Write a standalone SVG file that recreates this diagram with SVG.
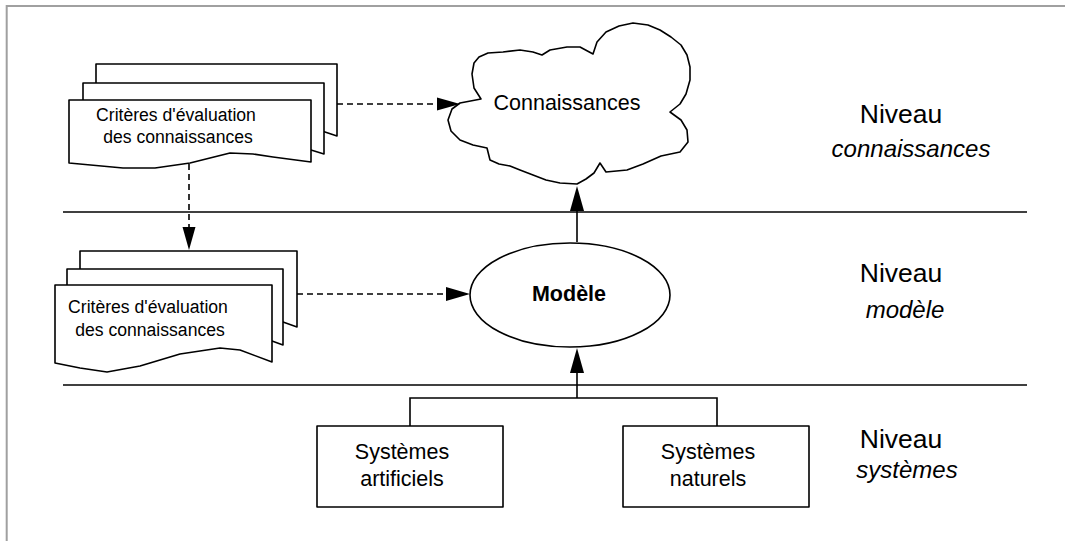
<svg xmlns="http://www.w3.org/2000/svg" width="1065" height="541" viewBox="0 0 1065 541">
<style>
.s{fill:#fff;stroke:#000;stroke-width:1.6;stroke-linejoin:round}
.ln{fill:none;stroke:#000;stroke-width:1.6}
.d{fill:none;stroke:#000;stroke-width:1.6;stroke-dasharray:6 4}
.ah{fill:#000;stroke:none}
text{font-family:"Liberation Sans",Arial,sans-serif;fill:#000;text-anchor:middle}
.t{font-size:17.6px}
.m{font-size:21.5px}
.n{font-size:26.5px}
.i{font-style:italic;font-size:24px}
</style>
<rect width="1065" height="541" fill="#fff"/>
<path d="M6.7,541 V6 H1065" fill="none" stroke="#a0a0a0" stroke-width="2"/>
<g id="separators">
<line class="ln" x1="63" y1="212" x2="1027" y2="212"/>
<line class="ln" x1="63" y1="385" x2="1027" y2="385"/>
</g>
<g id="doc-top">
<path class="s" d="M96,64 H337 V136 L322,131 L96,128 Z"/>
<path class="s" d="M83,83 H324 V154 L311,150 L83,146 Z"/>
<path class="s" d="M69,100 H311 V162 L273,157 L253,154 L230,153 L190,163 L155,168 L123,168 L69,163 Z"/>
<text class="t" x="176" y="121">Critères d'évaluation</text>
<text class="t" x="178" y="143">des connaissances</text>
</g>
<g id="doc-bottom">
<path class="s" d="M80,251 H297 V327 L283,322 L80,320 Z"/>
<path class="s" d="M67,269 H283 V345 L272,341 L67,338 Z"/>
<path class="s" d="M55,285 H272 V362 L240,350 L220,348 L180,354 L140,366 L107,372 L80,368 L55,363 Z"/>
<text class="t" x="148" y="313">Critères d'évaluation</text>
<text class="t" x="150" y="336">des connaissances</text>
</g>
<g id="cloud">
<path class="s" d="M481,99 L474,88 L472,74 L474,63 L479,57 L488,53 L503,52 L520,50 L533,52 L542,55 L550,50 L567,47 L580,47 L593,54 L597,42 L606,32 L619,26 L633,23 L648,25 L660,30 L671,37 L681,45 L687,55 L690,67 L690,80 L686,94 L680,104 L670,112 L681,120 L687,130 L688,142 L680,152 L661,156 L643,164 L627,170 L606,172 L600,163 L594,173 L586,179 L577,184 L560,183 L546,180 L533,175 L520,170 L510,166 L499,164 L490,160 L487,148 L473,145 L460,140 L451,131 L448,120 L452,109 L460,103 Z"/>
<text class="m" x="567" y="110">Connaissances</text>
</g>
<g id="modele">
<ellipse class="s" cx="570" cy="295" rx="100" ry="52"/>
<text class="m" x="569" y="301" font-weight="bold">Modèle</text>
</g>
<g id="sys-art">
<rect class="s" x="317" y="426" width="186" height="81"/>
<text class="m" x="402" y="459">Systèmes</text>
<text class="m" x="402" y="486">artificiels</text>
</g>
<g id="sys-nat">
<rect class="s" x="623" y="426" width="186" height="81"/>
<text class="m" x="708" y="459">Systèmes</text>
<text class="m" x="708" y="486">naturels</text>
</g>
<g id="levels">
<text class="n" x="901" y="123">Niveau</text>
<text class="i" x="911" y="157">connaissances</text>
<text class="n" x="901" y="282">Niveau</text>
<text class="i" x="905" y="318">modèle</text>
<text class="n" x="901" y="448">Niveau</text>
<text class="i" x="907" y="478">systèmes</text>
</g>
<g id="connectors">
<line class="d" x1="337" y1="104" x2="438" y2="104"/>
<polygon class="ah" points="460,104 437,97.5 437,110.5"/>
<line class="d" x1="189" y1="164" x2="189" y2="228"/>
<polygon class="ah" points="189,250 182.5,227 195.5,227"/>
<line class="d" x1="297" y1="294" x2="447" y2="294"/>
<polygon class="ah" points="470,294 446,287 446,301"/>
<line class="ln" x1="577" y1="242" x2="577" y2="210"/>
<polygon class="ah" points="577,186 570,211 584,211"/>
<polyline class="ln" points="410,426 410,398 717,398 717,426"/>
<line class="ln" x1="577" y1="398" x2="577" y2="371"/>
<polygon class="ah" points="577,348 570,373 584,373"/>
</g>
</svg>
